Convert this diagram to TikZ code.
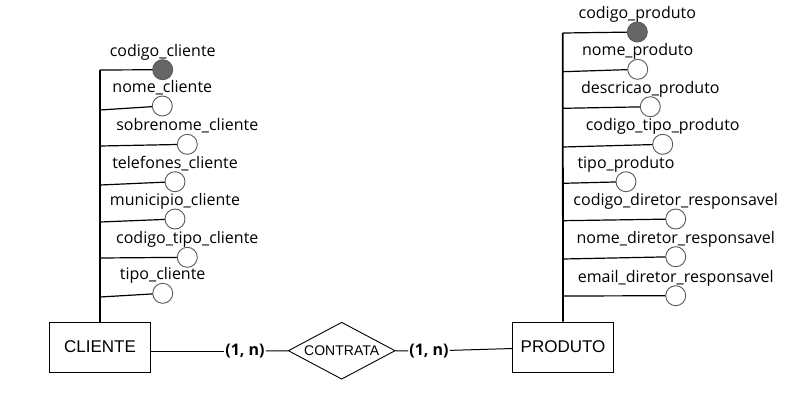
\documentclass[tikz,border=0pt]{standalone}
\usepackage{fontspec}
\setmainfont{Open Sans}
\newfontfamily\arialfont{Liberation Sans}
\usetikzlibrary{shapes.geometric,positioning}

\begin{document}
\begin{tikzpicture}[x=1pt,y=-1pt,
  entidade/.style={draw,line width=1pt,minimum width=101pt,minimum height=50pt,font=\arialfont\fontsize{17}{17}\selectfont},
  relac/.style={draw,diamond,aspect=1.88,inner sep=0pt,minimum width=107pt,minimum height=57pt,line width=0.9pt,font=\arialfont\fontsize{14}{14}\selectfont},
  card/.style={inner sep=1pt,font=\fontsize{16}{16}\selectfont\bfseries},
  attr/.style={circle,draw=black!65,fill=white,line width=0.9pt,minimum size=20pt,inner sep=0pt},
  chave/.style={attr,fill=black!60},
  rotulo/.style={anchor=base,inner sep=0pt,font=\fontsize{16}{16}\selectfont},
  tronco/.style={line width=1.8pt},
  ramo/.style={line width=1.2pt}]
\useasboundingbox (0,0) rectangle (802,400);

\node[entidade] (cliente) at (100,347) {CLIENTE};
\node[entidade] (produto) at (563,347) {PRODUTO};
\node[relac] (contrata) at (341.7,350.7) {CONTRATA};
\node[card] (k1) at (245,351) {(1, n)};
\node[card] (k2) at (429,351) {(1, n)};

\coordinate (t1) at (100,70);
\coordinate (t2) at (100,110);
\coordinate (t3) at (100,146);
\coordinate (t4) at (100,185);
\coordinate (t5) at (100,222);
\coordinate (t6) at (100,258);
\coordinate (t7) at (100,297);

\coordinate (s1) at (562.7,33);
\coordinate (s2) at (562.7,71.7);
\coordinate (s3) at (562.7,108.3);
\coordinate (s4) at (562.7,147);
\coordinate (s5) at (562.7,183.3);
\coordinate (s6) at (562.7,220.7);
\coordinate (s7) at (562.7,259);
\coordinate (s8) at (562.7,296);

\draw[tronco] (cliente.north) -- (t1);
\draw[tronco] (produto.north) -- (s1);

\path[ramo] (t1) edge (162.7,69.7) (t2) edge (162.3,106) (t3) edge (187.3,144.3)
  (t4) edge (175,181.7) (t5) edge (175,219) (t6) edge (187.3,257.3) (t7) edge (162.7,293.3);
\path[ramo] (s1) edge (637.3,32) (s2) edge (637.7,69.3) (s3) edge (650.3,106.7)
  (s4) edge (662.7,144.3) (s5) edge (626,181.7) (s6) edge (675.7,219)
  (s7) edge (675.7,256.7) (s8) edge (675.7,295.7);

\node[chave] (c1) at (162.7,69.7) {};
\node[attr] (c2) at (162.3,106) {};
\node[attr] (c3) at (187.3,144.3) {};
\node[attr] (c4) at (175,181.7) {};
\node[attr] (c5) at (175,219) {};
\node[attr] (c6) at (187.3,257.3) {};
\node[attr] (c7) at (162.7,293.3) {};

\node[chave] (p1) at (637.3,32) {};
\node[attr] (p2) at (637.7,69.3) {};
\node[attr] (p3) at (650.3,106.7) {};
\node[attr] (p4) at (662.7,144.3) {};
\node[attr] (p5) at (626,181.7) {};
\node[attr] (p6) at (675.7,219) {};
\node[attr] (p7) at (675.7,256.7) {};
\node[attr] (p8) at (675.7,295.7) {};

\node[rotulo] (lc1) at ([yshift=3pt]c1.north) {codigo\_cliente};
\node[rotulo] (lc2) at ([yshift=3pt]c2.north) {nome\_cliente};
\node[rotulo] (lc3) at ([yshift=3pt]c3.north) {sobrenome\_cliente};
\node[rotulo] (lc4) at ([yshift=3pt]c4.north) {telefones\_cliente};
\node[rotulo] (lc5) at ([yshift=3pt]c5.north) {municipio\_cliente};
\node[rotulo] (lc6) at ([yshift=3pt]c6.north) {codigo\_tipo\_cliente};
\node[rotulo] (lc7) at ([yshift=3pt]c7.north) {tipo\_cliente};

\node[rotulo] (lp1) at ([yshift=3pt]p1.north) {codigo\_produto};
\node[rotulo] (lp2) at ([yshift=3pt]p2.north) {nome\_produto};
\node[rotulo] (lp3) at ([yshift=3pt]p3.north) {descricao\_produto};
\node[rotulo] (lp4) at ([yshift=3pt]p4.north) {codigo\_tipo\_produto};
\node[rotulo] (lp5) at ([yshift=3pt]p5.north) {tipo\_produto};
\node[rotulo] (lp6) at ([yshift=3pt]p6.north) {codigo\_diretor\_responsavel};
\node[rotulo] (lp7) at ([yshift=3pt]p7.north) {nome\_diretor\_responsavel};
\node[rotulo] (lp8) at ([yshift=3pt]p8.north) {email\_diretor\_responsavel};

\path[line width=1pt] (k1) edge (k1 -| cliente.east) (k1) edge (contrata)
  (k2) edge (contrata) (k2) edge (produto);
\end{tikzpicture}
\end{document}
